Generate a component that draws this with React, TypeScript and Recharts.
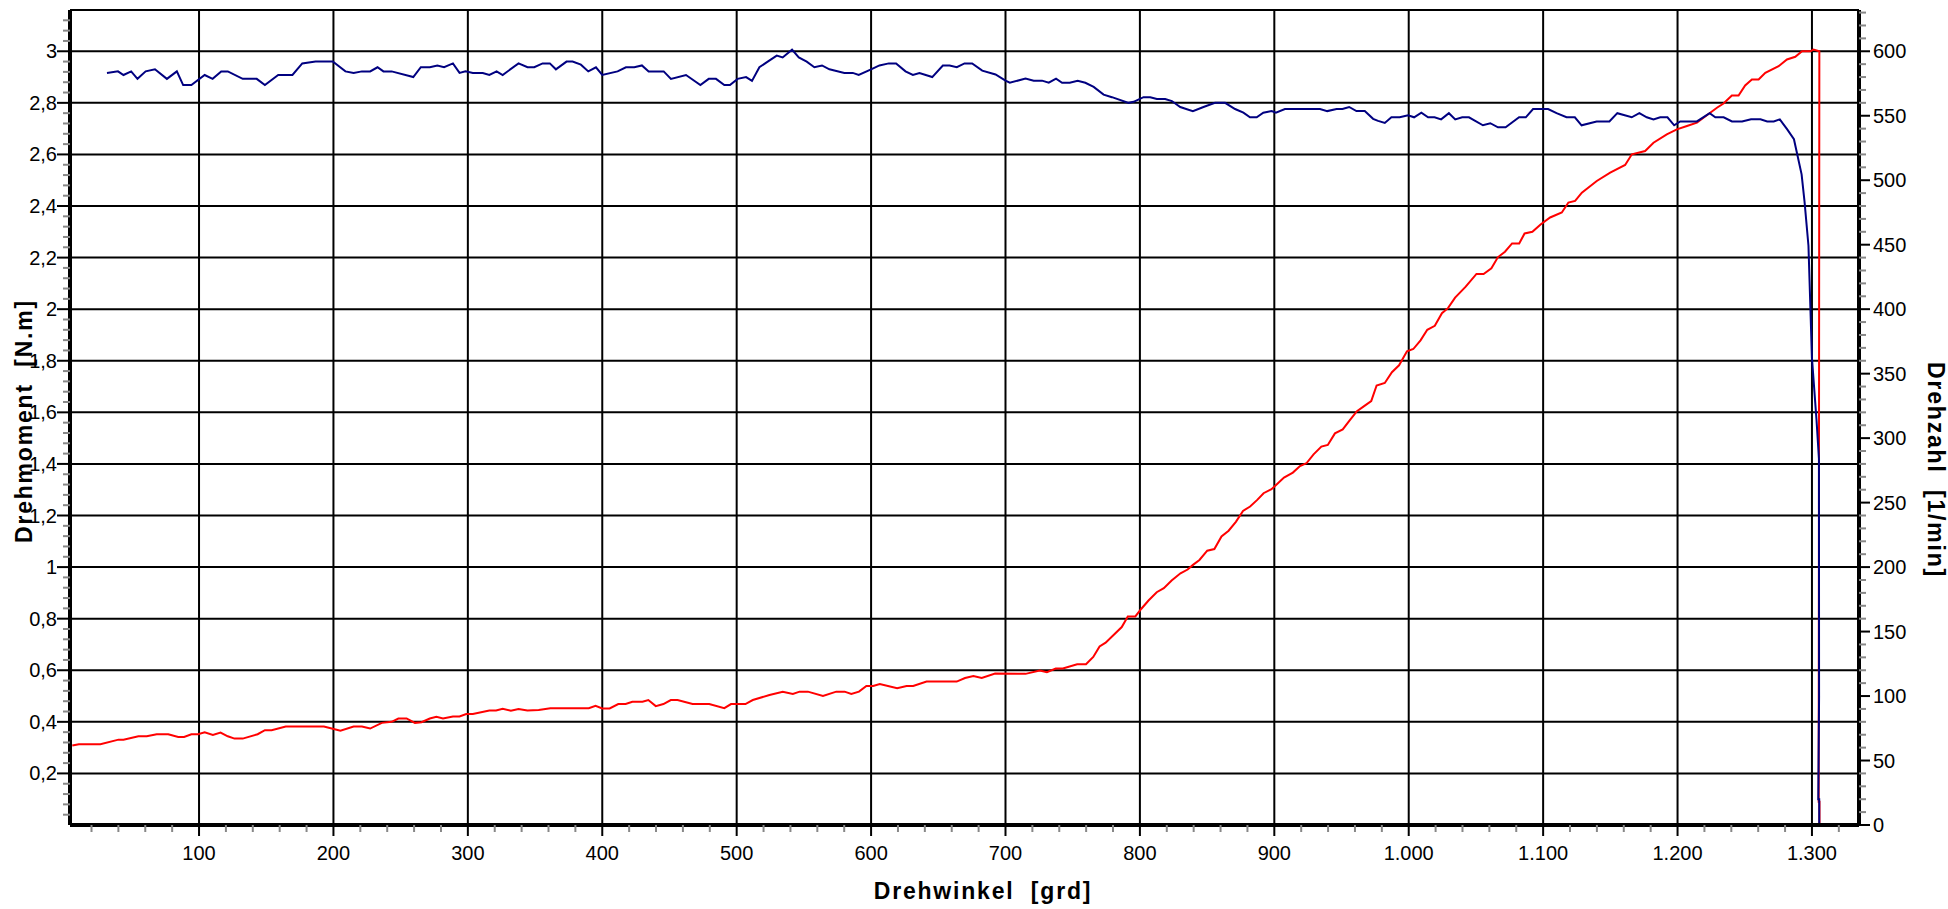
import { LineChart, Line, XAxis, YAxis, CartesianGrid } from 'recharts';

// Drehwinkel [grd] vs. Drehmoment [N.m] (blue) and Drehzahl [1/min] (red)
const torqueAngle = [
  31.5, 39.7, 43.8, 49.5, 54.2, 60.3, 67.2, 76.1, 83.5, 88.2, 94.3, 104.2, 110.1, 116.5, 121.4, 132.5,
  142.9, 149, 158.9, 169.5, 176.8, 186.7, 199.5, 208.9, 215, 221.2, 227.3, 232.8, 237.2, 243.3, 259.4,
  265, 271.7, 277.3, 282.3, 288.9, 293.8, 298.3, 303.7, 311.1, 316, 321.4, 325.9, 337.7, 344.4, 349.4,
  355.6, 361, 365.5, 373.4, 377.9, 384.1, 389.6, 395.3, 400, 411.4, 417.6, 423.8, 429.5, 434.5, 445.7,
  451.1, 462.3, 473, 479.2, 484.6, 490.8, 495, 500.7, 507, 511.4, 516.9, 523.1, 529.8, 534.2, 541.2,
  546.2, 552.1, 557.8, 563.5, 569, 580.1, 586.4, 590.8, 600, 606.2, 613.2, 618.6, 625.6, 631.1, 636,
  645.5, 653.4, 658.4, 663.8, 669.5, 675.2, 682.7, 692.6, 700, 703.2, 714.9, 721, 727.2, 732.2, 737.6,
  742.1, 747.8, 753.7, 759.4, 765.6, 773, 779.2, 791.6, 795.3, 802.7, 807.7, 812.6, 818.8, 823.8, 830,
  839.4, 847.3, 855.9, 863.4, 870.8, 877, 881.9, 886.9, 891.8, 898, 901.2, 907.9, 934, 939.4, 946.3,
  950.7, 955.7, 961.1, 967.3, 973.5, 977.2, 982.2, 987.1, 993.3, 999.5, 1004, 1009.4, 1014.4, 1019.2,
  1024.1, 1029.9, 1034.6, 1039.8, 1044.8, 1055.2, 1060.7, 1066.4, 1072.1, 1082.1, 1087.1, 1092.5,
  1103.7, 1110, 1117.4, 1123.6, 1128.6, 1139.8, 1149.3, 1155.2, 1165.9, 1171.6, 1177.1, 1182.1, 1187.1,
  1192.5, 1197.5, 1202, 1214.4, 1223.9, 1228.1, 1234.3, 1240.5, 1248, 1254.7, 1261.7, 1266.7, 1271.6,
  1276.1, 1281.6, 1286.6, 1292.3, 1294.5, 1297.4, 1300, 1303.4, 1305.2, 1305.3, 1304.7, 1305.4, 1305.4,
];
const torqueValue = [
  2.916, 2.922, 2.908, 2.922, 2.893, 2.922, 2.93, 2.893, 2.922, 2.869, 2.869, 2.908, 2.893, 2.922, 2.922, 2.893,
  2.893, 2.869, 2.908, 2.908, 2.953, 2.96, 2.96, 2.922, 2.916, 2.922, 2.922, 2.938, 2.922, 2.922, 2.9,
  2.938, 2.938, 2.945, 2.938, 2.953, 2.916, 2.922, 2.916, 2.916, 2.908, 2.922, 2.908, 2.953, 2.938, 2.938,
  2.953, 2.953, 2.93, 2.96, 2.96, 2.948, 2.922, 2.938, 2.908, 2.922, 2.938, 2.938, 2.945, 2.922, 2.922,
  2.893, 2.908, 2.869, 2.893, 2.893, 2.869, 2.869, 2.893, 2.9, 2.885, 2.938, 2.96, 2.983, 2.976, 3.006,
  2.976, 2.96, 2.938, 2.945, 2.93, 2.916, 2.916, 2.908, 2.93, 2.945, 2.953, 2.953, 2.922, 2.908, 2.916,
  2.9, 2.945, 2.945, 2.938, 2.953, 2.953, 2.925, 2.91, 2.886, 2.878, 2.894, 2.886, 2.886, 2.878, 2.894,
  2.878, 2.878, 2.886, 2.878, 2.862, 2.832, 2.822, 2.8, 2.804, 2.822, 2.822, 2.815, 2.815, 2.807, 2.784,
  2.768, 2.784, 2.8, 2.8, 2.776, 2.762, 2.744, 2.744, 2.762, 2.768, 2.762, 2.776, 2.776, 2.768, 2.776,
  2.776, 2.784, 2.768, 2.768, 2.738, 2.73, 2.722, 2.744, 2.744, 2.752, 2.744, 2.762, 2.744, 2.744,
  2.736, 2.76, 2.736, 2.744, 2.744, 2.713, 2.721, 2.705, 2.705, 2.744, 2.744, 2.776,
  2.776, 2.76, 2.744, 2.744, 2.713, 2.728, 2.728, 2.76, 2.744, 2.76, 2.744, 2.736, 2.744,
  2.744, 2.713, 2.728, 2.728, 2.76, 2.744, 2.744, 2.728, 2.728, 2.736, 2.736, 2.728, 2.728,
  2.736, 2.697, 2.659, 2.523, 2.416, 2.246, 1.81, 1.57, 1.42, 0.5, 0.1, 0.1, 0,
];

const speedAngle = [
  5.7, 10.6, 26.6, 40.1, 43.8, 54.9, 61.1, 68.5, 77.1, 84.5, 88.9, 94.3, 99.3, 104.2, 110.3, 116, 121.4,
  126.4, 132.5, 143.6, 149, 154, 164.5, 192.9, 200.2, 205.2, 215, 221.2, 227.3, 236, 243.3, 248.3, 254.4,
  260.6, 265.5, 271.7, 276.6, 281.5, 288.9, 293.8, 298.8, 303.7, 316, 321, 325.9, 332, 337.7, 344.3,
  352.7, 361.4, 390, 395, 400, 405.5, 411.9, 417.4, 422.4, 429.9, 434.3, 439.8, 445.5, 451, 456, 467.2,
  479.6, 490.8, 495.8, 506.5, 512, 524.4, 534.3, 541.8, 546.8, 553, 564.2, 574.1, 580.3, 585.3, 591,
  596.5, 601.5, 606.5, 619.4, 626.4, 631.3, 641.3, 663.7, 669.9, 676.1, 682.3, 692.3, 714.9, 725.5,
  730.8, 737.4, 742.7, 753.3, 759.9, 765.3, 770, 774.5, 780.6, 786.5, 791, 796.6, 801.1, 806.4, 812.5,
  817.8, 823.6, 830.2, 835.5, 839.5, 844.3, 850.1, 855.4, 860.7, 866, 871.4, 876.7, 882, 887.3, 892,
  897.9, 901.9, 907.2, 913.8, 919.1, 923.9, 929.2, 935, 939.8, 945.1, 950.9, 956.2, 961.5, 966.8, 972.1,
  976.1, 982.2, 987.5, 992.8, 998.7, 1003.4, 1008.8, 1013.8, 1019.4, 1024.7, 1029.2, 1034.5, 1042.4,
  1050.4, 1055.7, 1061.5, 1066.3, 1071.6, 1076.9, 1082.2, 1086.2, 1092, 1098.1, 1105.2, 1113.9, 1118.8,
  1123.8, 1128.8, 1139.9, 1149.9, 1161, 1166, 1175.9, 1182.1, 1192, 1199.5, 1207, 1214.4, 1219.3,
  1229.3, 1234.2, 1240.4, 1245.4, 1250.3, 1255.3, 1260.3, 1265.3, 1275.2, 1281.4, 1287.6, 1292.6,
  1298.8, 1301.1, 1305.5, 1305, 1305.6, 1305.6,
];
const speedValue = [
  61.6, 62.6, 62.6, 66.2, 66.2, 68.8, 68.8, 70.4, 70.4, 68.3, 68.3, 70.4, 70.4, 71.9, 69.9, 71.7, 68.8,
  67, 67, 70.4, 73.5, 73.5, 76.4, 76.4, 74.5, 73.2, 76.4, 76.4, 74.8, 79.2, 80, 82.6, 82.6,
  79.2, 79.7, 82.6, 83.9, 82.6, 84.2, 84.2, 86, 86, 88.8, 88.8, 90.1, 88.6, 89.9, 88.8,
  89.1, 90.6, 90.6, 92.5, 90.4, 90.4, 93.8, 93.8, 95.6, 95.6, 96.9, 92.2, 93.8, 96.9, 96.9, 93.8,
  93.8, 90.6, 93.8, 93.8, 96.9, 100.8, 103.4, 101.6, 103.4, 103.4, 100, 103.4, 103.4, 101.6, 103.4,
  107.8, 107.8, 109.4, 106, 107.8, 107.8, 111.2, 111.2, 114, 115.6, 114, 117.4, 117.2, 119.7,
  118.5, 121.3, 121.3, 124.6, 124.6, 130.3, 138.5, 141.4, 147.6, 153.5, 161.7, 161.7, 167.7, 174.1, 180.5,
  183.6, 189.6, 195.2, 198.1, 201.7, 205.5, 212.7, 214, 223.8, 228.2, 235.1, 243.6, 247, 252.1, 257.3,
  260.4, 264.3, 269.4, 273.3, 278.4, 280.5, 287.4, 293.4, 294.7, 303.7, 306.8, 314, 320.9, 324.8, 328.7,
  340.8, 342.8, 351.1, 356.5, 367.3, 369.1, 375.8, 384, 387.1, 396.9, 400.8, 409, 417.5,
  427.3, 427.3, 431.7, 440.2, 444.6, 451, 451, 458.7, 460, 465.7, 471.1, 475, 482.7,
  484, 490.4, 499.4, 505.9, 511.8, 520.1, 522.6, 529.1, 535.6, 539.4, 542, 544.6, 548.5,
  556.2, 559.5, 565.7, 565.7, 573.5, 578.1, 578.1, 583.3, 588.4, 593.6, 595.7, 600,
  600, 601.3, 600, 18, 18, 0,
];

const xLabels = [100, 200, 300, 400, 500, 600, 700, 800, 900, 1000, 1100, 1200, 1300];
const leftLabels = [0.2, 0.4, 0.6, 0.8, 1, 1.2, 1.4, 1.6, 1.8, 2, 2.2, 2.4, 2.6, 2.8, 3];
const rightLabels = [0, 50, 100, 150, 200, 250, 300, 350, 400, 450, 500, 550, 600];

const xDomain: [number, number] = [4, 1335];
const leftDomain: [number, number] = [0, 3.16];
const rightDomain: [number, number] = [0, 632];

// minor ticks (every 20 grd / 0.04 N.m / 10 1/min)
const xTicks = Array.from({ length: 66 }, (_, i) => (i + 1) * 20);
const leftTicks = Array.from({ length: 78 }, (_, i) => Math.round((i + 1) * 4) / 100);
const rightTicks = Array.from({ length: 64 }, (_, i) => i * 10);

const torqueData = torqueAngle.map((a, i) => ({ angle: a, torque: torqueValue[i] }));
const speedData = speedAngle.map((a, i) => ({ angle: a, speed: speedValue[i] }));

const FONT = '"Liberation Sans", Arial, sans-serif';
const SP = '\u00a0\u00a0';

const fmtX = (v: number) => (v >= 1000 ? `${Math.floor(v / 1000)}.${String(v % 1000).padStart(3, '0')}` : String(v));
const fmtLeft = (v: number) => String(Math.round(v * 10) / 10).replace('.', ',');

function XTick(props: any) {
  const { x, y, payload } = props;
  const v = payload.value;
  const major = xLabels.includes(v);
  return (
    <g>
      <line x1={x} x2={x} y1={y} y2={y + (major ? 11 : 7)} stroke={major ? '#000' : '#888'} strokeWidth={2} />
      {major && (
        <text x={x} y={y + 35} textAnchor="middle" fontSize={20} fontFamily={FONT} fill="#000">
          {fmtX(v)}
        </text>
      )}
    </g>
  );
}

function LeftTick(props: any) {
  const { x, y, payload } = props;
  const v = payload.value;
  const major = Math.abs(v * 5 - Math.round(v * 5)) < 1e-6;
  return (
    <g>
      <line x1={x - (major ? 13 : 7)} x2={x} y1={y} y2={y} stroke={major ? '#000' : '#888'} strokeWidth={2} />
      {major && (
        <text x={x - 13} y={y + 7} textAnchor="end" fontSize={20} fontFamily={FONT} fill="#000">
          {fmtLeft(v)}
        </text>
      )}
    </g>
  );
}

function RightTick(props: any) {
  const { x, y, payload } = props;
  const v = payload.value;
  const major = rightLabels.includes(v);
  return (
    <g>
      <line x1={x} x2={x + (major ? 11 : 7)} y1={y} y2={y} stroke={major ? '#000' : '#888'} strokeWidth={2} />
      {major && (
        <text x={x + 14} y={y + 7} textAnchor="start" fontSize={20} fontFamily={FONT} fill="#000">
          {v}
        </text>
      )}
    </g>
  );
}

export default function App() {
  return (
    <div style={{ position: 'absolute', left: 0, top: 0, width: 1948, height: 909, background: '#fff' }}>
      <LineChart width={1948} height={909} margin={{ top: 10, right: 29, bottom: 44, left: 0 }}>
        <CartesianGrid
          yAxisId="left"
          stroke="#000"
          strokeWidth={2}
          horizontalValues={[...leftLabels, leftDomain[1]]}
          verticalValues={xLabels}
        />
        <XAxis
          dataKey="angle"
          type="number"
          domain={xDomain}
          allowDataOverflow
          ticks={xTicks}
          interval={0}
          tickSize={0}
          tickMargin={0}
          tickLine={false}
          tick={<XTick />}
          axisLine={{ stroke: '#000', strokeWidth: 4 }}
          height={40}
        />
        <YAxis
          yAxisId="left"
          orientation="left"
          type="number"
          domain={leftDomain}
          allowDataOverflow
          ticks={leftTicks}
          interval={0}
          tickSize={0}
          tickMargin={0}
          tickLine={false}
          tick={<LeftTick />}
          axisLine={{ stroke: '#000', strokeWidth: 4 }}
          width={70}
        />
        <YAxis
          yAxisId="right"
          orientation="right"
          type="number"
          domain={rightDomain}
          allowDataOverflow
          ticks={rightTicks}
          interval={0}
          tickSize={0}
          tickMargin={0}
          tickLine={false}
          tick={<RightTick />}
          axisLine={{ stroke: '#000', strokeWidth: 4 }}
          width={60}
        />
        <Line
          yAxisId="right"
          data={speedData}
          dataKey="speed"
          type="linear"
          stroke="#ff0000"
          strokeWidth={2}
          dot={false}
          isAnimationActive={false}
        />
        <Line
          yAxisId="left"
          data={torqueData}
          dataKey="torque"
          type="linear"
          stroke="#000080"
          strokeWidth={2}
          dot={false}
          isAnimationActive={false}
        />
      </LineChart>
      <svg width={1948} height={909} style={{ position: 'absolute', left: 0, top: 0, pointerEvents: 'none' }}>
        <g fontFamily={FONT} fontWeight="bold" fontSize={23} fill="#000" letterSpacing={1.8}>
          <text x={983} y={899} textAnchor="middle">{`Drehwinkel${SP}[grd]`}</text>
          <text transform="translate(32,421) rotate(-90)" textAnchor="middle">{`Drehmoment${SP}[N.m]`}</text>
          <text transform="translate(1928,470) rotate(90)" textAnchor="middle">{`Drehzahl${SP}[1/min]`}</text>
        </g>
      </svg>
    </div>
  );
}
